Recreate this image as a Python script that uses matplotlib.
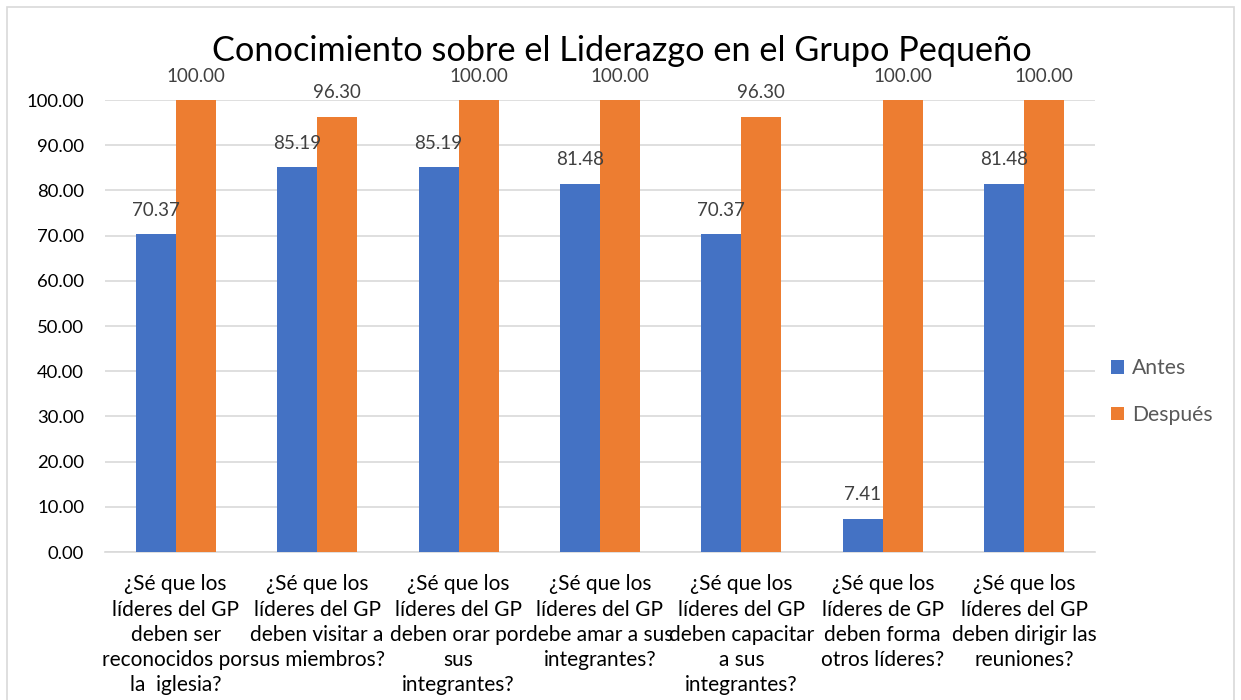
import matplotlib
matplotlib.use("Agg")
from matplotlib import pyplot as plt
import numpy as np

plt.rcParams['font.family'] = ['Lato', 'DejaVu Sans']

# Datos del grafico
preguntas = [
    "¿Sé que los\nlíderes del GP\ndeben ser\nreconocidos por\nla  iglesia?",
    "¿Sé que los\nlíderes del GP\ndeben visitar a\nsus miembros?",
    "¿Sé que los\nlíderes del GP\ndeben orar por\nsus\nintegrantes?",
    "¿Sé que los\nlíderes del GP\ndebe amar a sus\nintegrantes?",
    "¿Sé que los\nlíderes del GP\ndeben capacitar\na sus\nintegrantes?",
    "¿Sé que los\nlíderes de GP\ndeben forma\notros líderes?",
    "¿Sé que los\nlíderes del GP\ndeben dirigir las\nreuniones?",
]
antes = [70.37, 85.19, 85.19, 81.48, 70.37, 7.41, 81.48]
despues = [100.00, 96.30, 100.00, 100.00, 96.30, 100.00, 100.00]

azul = '#4472C4'
naranja = '#ED7D31'

fig = plt.figure(figsize=(12.41, 7), dpi=100)
ax = fig.add_axes([0.0846, 0.2114, 0.7977, 0.6457])

x = np.arange(len(preguntas))
w = 0.283
b1 = ax.bar(x - w/2, antes, w, color=azul, label='Antes', zorder=3)
b2 = ax.bar(x + w/2, despues, w, color=naranja, label='Después', zorder=3)

for barras in (b1, b2):
    for r in barras:
        ax.annotate(f"{r.get_height():.2f}", (r.get_x() + r.get_width()/2, r.get_height()),
                    xytext=(0, 11), textcoords='offset points', ha='center', va='bottom',
                    fontsize=13.5, color='#404040')

ax.set_xlim(-0.5, len(preguntas) - 0.5)
ax.set_ylim(0, 100)
ax.set_yticks(np.arange(0, 101, 10))
ax.set_yticklabels([f"{v:.2f}" for v in np.arange(0, 101, 10)], fontsize=13.3)
ax.set_xticks(x)
ax.set_xticklabels(preguntas, fontsize=15, linespacing=1.33)
ax.tick_params(axis='both', length=0, colors='black')
ax.tick_params(axis='y', pad=15)
ax.tick_params(axis='x', pad=16)
ax.grid(axis='y', color='#D9D9D9', linewidth=1.2, zorder=0)
for s in ['top', 'right', 'left']:
    ax.spines[s].set_visible(False)
ax.spines['bottom'].set_color('#D9D9D9')
ax.spines['bottom'].set_linewidth(1.2)

fig.text(0.501, 0.927, "Conocimiento sobre el Liderazgo en el Grupo Pequeño",
         ha='center', va='center', fontsize=24.7, color='black')

leg = ax.legend(loc='center left', bbox_to_anchor=(0.997, 0.355), frameon=False,
                fontsize=15.2, handlelength=0.6, handleheight=0.6, handletextpad=0.4,
                labelspacing=1.25)
for t in leg.get_texts():
    t.set_color('#595959')

fig.patches.append(plt.Rectangle((0.006, -0.01), 0.988, 1.0, transform=fig.transFigure,
                                 fill=False, edgecolor='#D9D9D9', linewidth=1.2))

plt.savefig("out.png", dpi=100)
